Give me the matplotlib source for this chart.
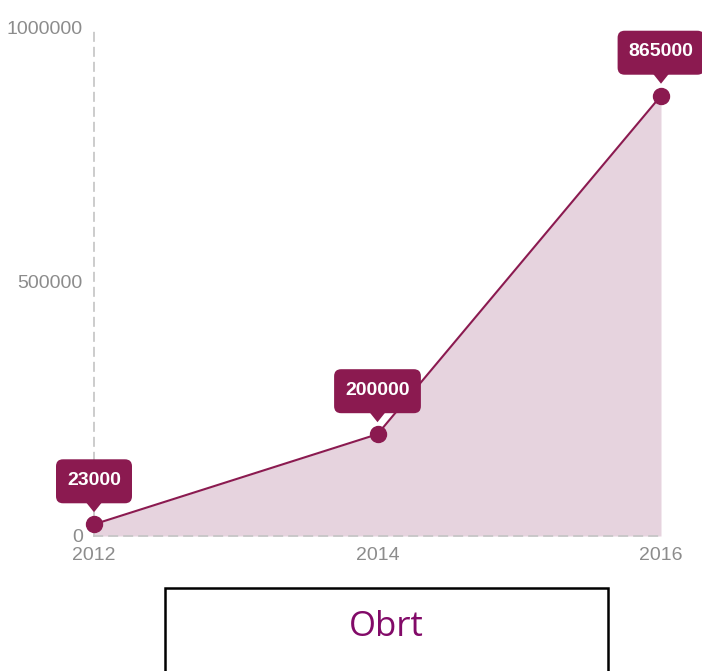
import matplotlib.pyplot as plt
from matplotlib.patches import Rectangle, FancyBboxPatch, Polygon
from matplotlib.transforms import IdentityTransform, ScaledTranslation

years = [2012, 2014, 2016]
values = [23000, 200000, 865000]
labels = ['23000', '200000', '865000']
yticks = [0, 500000, 1000000]
ytick_labels = ['0', '500000', '1000000']
title = 'Obrt'

line_color = '#8b1a50'
fill_color = '#e6d3de'
grey = '#8c8c8c'

plt.rcParams['font.family'] = ['Liberation Sans', 'DejaVu Sans']

fig = plt.figure(figsize=(7.02, 6.71), dpi=100)
ax = fig.add_axes([94 / 702, 135 / 671, 567 / 702, 509 / 671])

ax.fill_between(years, values, 0, color=fill_color, lw=0, zorder=1)
ax.plot(years, values, color=line_color, lw=1.5, zorder=3)
ax.plot(years, values, 'o', color=line_color, ms=11.5, zorder=4, clip_on=False)

# callout labels above each point (box drawn in pixel offsets from the point)
for x, y, s in zip(years, values, labels):
    tr = IdentityTransform() + ScaledTranslation(x, y, ax.transData)
    w = 10.8 * len(s) + 22
    box = FancyBboxPatch((-w / 2, 21), w, 44,
                         boxstyle='round,pad=0,rounding_size=7',
                         fc=line_color, ec='none', transform=tr,
                         clip_on=False, zorder=5)
    ax.add_artist(box)
    ax.add_artist(Polygon([(-8, 22), (8, 22), (0, 12)], closed=True,
                          fc=line_color, ec='none', transform=tr,
                          clip_on=False, zorder=5))
    ax.annotate(s, xy=(x, y), xytext=(0, 31.5), textcoords='offset points',
                ha='center', va='center', color='white', fontsize=14,
                fontweight='bold', zorder=6, annotation_clip=False)

ax.set_xlim(2012, 2016)
ax.set_ylim(0, 1000000)
ax.set_xticks(years)
ax.set_xticklabels([str(y) for y in years])
ax.set_yticks(yticks)
ax.set_yticklabels(ytick_labels)
ax.tick_params(length=0, labelsize=14, labelcolor=grey)
ax.tick_params(axis='x', pad=8)
ax.tick_params(axis='y', pad=8)

for side in ['top', 'right']:
    ax.spines[side].set_visible(False)
for side in ['left', 'bottom']:
    ax.spines[side].set_color('#c4c4c4')
    ax.spines[side].set_linewidth(1.2)
    ax.spines[side].set_linestyle((0, (5, 4)))
ax.set_zorder(2)

# title box at the bottom
fig.add_artist(Rectangle((165 / 702, -0.02), 443 / 702, (671 - 588) / 671 + 0.02,
                         transform=fig.transFigure, fill=False,
                         ec='black', lw=1.8))
fig.text(386 / 702, (671 - 627) / 671, title, ha='center', va='center',
         fontsize=25, color='#820a68', family=['Open Sans', 'DejaVu Sans'])

fig.savefig('out.png', dpi=100)
